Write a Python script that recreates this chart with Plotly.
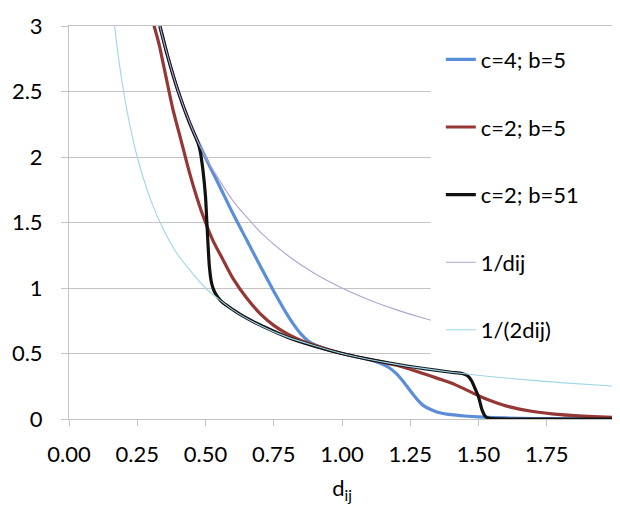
import plotly.graph_objects as go

# ---- data ----
blue_x = [0.333, 0.36, 0.40, 0.44, 0.48, 0.52, 0.55, 0.60, 0.65, 0.70, 0.75, 0.78, 0.80, 0.82, 0.85, 0.875, 0.90, 0.95, 1.00, 1.05, 1.10, 1.14, 1.17, 1.20, 1.225, 1.25, 1.275, 1.30, 1.325, 1.35, 1.40, 1.45, 1.50, 1.60, 1.70, 1.80, 2.00]
blue_y = [3.00, 2.78, 2.50, 2.27, 2.085, 1.91, 1.785, 1.57, 1.37, 1.17, 0.975, 0.865, 0.795, 0.73, 0.648, 0.598, 0.567, 0.527, 0.50, 0.475, 0.452, 0.425, 0.395, 0.345, 0.285, 0.215, 0.15, 0.10, 0.072, 0.052, 0.033, 0.023, 0.016, 0.008, 0.004, 0.002, 0.001]

red_x = [0.305, 0.33, 0.352, 0.38, 0.41, 0.44, 0.47, 0.50, 0.53, 0.563, 0.60, 0.65, 0.70, 0.75, 0.80, 0.85, 0.90, 1.00, 1.10, 1.20, 1.25, 1.30, 1.35, 1.40, 1.45, 1.50, 1.55, 1.60, 1.70, 1.80, 1.90, 2.00]
red_y = [3.05, 2.86, 2.644, 2.37, 2.13, 1.89, 1.68, 1.50, 1.35, 1.22, 1.075, 0.925, 0.805, 0.715, 0.65, 0.60, 0.562, 0.50, 0.455, 0.41, 0.38, 0.345, 0.31, 0.275, 0.228, 0.178, 0.135, 0.10, 0.057, 0.033, 0.02, 0.012]

black_x = [0.333, 0.36, 0.40, 0.44, 0.46, 0.472, 0.48, 0.49, 0.50, 0.505, 0.514, 0.522, 0.532, 0.545, 0.563, 0.60, 0.63, 0.683, 0.75, 0.80, 0.90, 1.00, 1.10, 1.20, 1.30, 1.40, 1.44, 1.46, 1.475, 1.49, 1.50, 1.513, 1.525, 1.54, 1.60, 2.00]
black_y = [3.00, 2.78, 2.50, 2.27, 2.17, 2.11, 2.05, 1.91, 1.70, 1.50, 1.17, 1.04, 0.975, 0.93, 0.889, 0.835, 0.795, 0.735, 0.67, 0.625, 0.556, 0.50, 0.455, 0.417, 0.385, 0.357, 0.347, 0.33, 0.29, 0.22, 0.17, 0.07, 0.02, 0.005, 0.0, 0.0]

inv_x = [0.333, 0.35, 0.40, 0.45, 0.50, 0.60, 0.70, 0.80, 0.90, 1.00, 1.10, 1.20, 1.30, 1.40, 1.50]
inv_y = [3.00, 2.857, 2.50, 2.222, 2.00, 1.667, 1.429, 1.25, 1.111, 1.00, 0.909, 0.833, 0.769, 0.714, 0.667]

half_x = [0.167, 0.18, 0.20, 0.225, 0.25, 0.30, 0.35, 0.40, 0.50, 0.60, 0.70, 0.80, 1.00, 1.20, 1.40, 1.60, 1.80, 2.00]
half_y = [3.00, 2.778, 2.50, 2.222, 2.00, 1.667, 1.429, 1.25, 1.00, 0.833, 0.714, 0.625, 0.50, 0.417, 0.357, 0.3125, 0.278, 0.25]

x_ticks = [0, 0.25, 0.5, 0.75, 1.0, 1.25, 1.5, 1.75]
x_ticktext = ["0.00", "0.25", "0.50", "0.75", "1.00", "1.25", "1.50", "1.75"]
x_end_tick = [2.0]
y_ticks = [0, 0.5, 1, 1.5, 2, 2.5, 3]
y_ticktext = ["0", "0.5", "1", "1.5", "2", "2.5", "3"]

series = [
    ("c=4; b=5", blue_x, blue_y, "#5b8ed8", 3.2),
    ("c=2; b=5", red_x, red_y, "#953735", 3.2),
    ("c=2; b=51", black_x, black_y, "#111111", 3.2),
    ("1/dij", inv_x, inv_y, "#b3a5d0", 1.1),
    ("1/(2dij)", half_x, half_y, "#9fd6e8", 1.1),
]

FONT = "Lato, 'Liberation Sans', Arial, sans-serif"
GRID = "#c4c4c4"

fig = go.Figure()
for i, (name, xs, ys, col, w) in enumerate(series):
    fig.add_trace(go.Scatter(
        x=xs, y=ys, mode="lines", name=name, legendgroup=f"g{i}",
        line=dict(color=col, width=w, shape="spline", smoothing=0.6),
    ))

# white box behind the legend (legend sits inside plot area)
fig.add_shape(type="rect", xref="paper", yref="paper",
              x0=0.6626, x1=0.9946, y0=0.158, y1=0.993,
              fillcolor="white", line=dict(width=0), layer="above")

# page body has an 8px default margin: figure is sized/offset to compensate
fig.update_layout(
    width=612, height=501,
    margin=dict(l=53, r=5, t=4, b=90),
    paper_bgcolor="white", plot_bgcolor="white",
    font=dict(family=FONT, size=22, color="#000000"),
    showlegend=True,
    legend=dict(x=0.681, y=0.968, xanchor="left", yanchor="top",
                bgcolor="rgba(0,0,0,0)", borderwidth=0,
                tracegroupgap=36, font=dict(size=22)),
    xaxis=dict(range=[0, 2.0], tickmode="array", tickvals=x_ticks, ticktext=x_ticktext,
               showgrid=False, zeroline=False, showline=True, mirror=True,
               linecolor=GRID, linewidth=1,
               ticks="outside", ticklen=6, tickcolor=GRID, tickwidth=1,
               minor=dict(tickmode="array", tickvals=x_end_tick, ticks="outside",
                          ticklen=6, tickcolor=GRID, tickwidth=1, showgrid=False),
               ticklabelstandoff=10,
               title=dict(text="d<sub>ij</sub>", standoff=14, font=dict(size=22))),
    yaxis=dict(range=[0, 3.0], tickmode="array", tickvals=y_ticks, ticktext=y_ticktext,
               showgrid=True, gridcolor=GRID, gridwidth=1,
               zeroline=False, showline=True, linecolor=GRID, linewidth=1,
               ticks="outside", ticklen=7, tickcolor=GRID, tickwidth=1,
               ticklabelstandoff=14, ticklabeloverflow="allow"),
)

fig.write_html("out.html")
